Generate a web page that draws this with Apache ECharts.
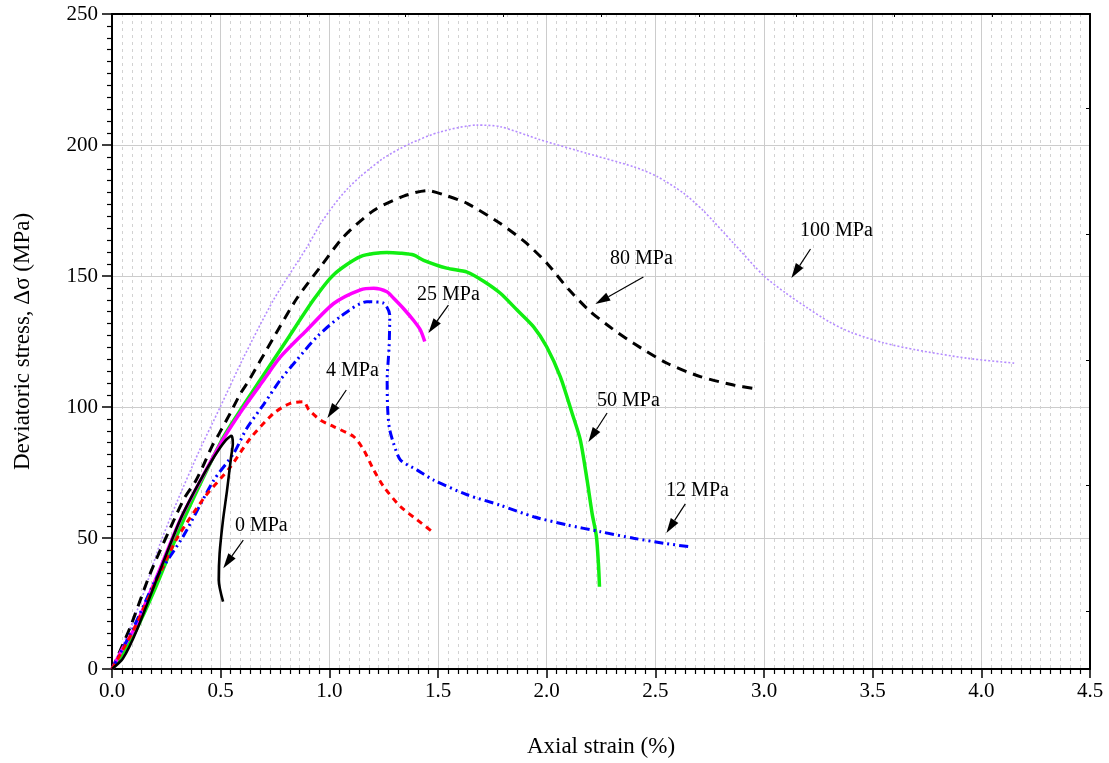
<!DOCTYPE html>
<html>
<head>
<meta charset="UTF-8">
<title>Deviatoric stress vs axial strain</title>
<script src="https://cdn.jsdelivr.net/npm/echarts@6/dist/echarts.min.js"></script>
<style>
  body { margin: 0; background: #fff; }
  #chart { width: 1109px; height: 763px; }
</style>
</head>
<body>
<div id="chart"></div>
<script>
// confining pressure curves: [axial strain %, deviatoric stress MPa]
var p0 = [[0,0],[0.05,4],[0.115,15],[0.237,41],[0.314,57],[0.4,71],[0.47,81],[0.52,87],[0.55,89],
  [0.556,86],[0.548,81],[0.529,68],[0.511,57],[0.495,44],[0.491,34],[0.511,25.7]];
var p4 = [[0,0],[0.1,15],[0.2,33],[0.3,50],[0.43,66],[0.544,77],[0.636,88],[0.744,97.6],[0.82,101.4],
  [0.882,102],[0.905,99],[0.959,95],[1.02,92.5],[1.112,88.7],[1.158,83.6],[1.204,76],[1.25,69.6],
  [1.327,62],[1.403,57],[1.48,52]];
var p12 = [[0,0],[0.1,16],[0.207,35],[0.33,51],[0.468,72],[0.56,82.3],[0.621,92],[0.698,101],[0.774,110.3],
  [0.851,118],[0.943,126.8],[1.051,134.5],[1.173,140.2],[1.25,139.6],[1.278,135],[1.275,123],[1.266,110],
  [1.268,100],[1.276,92],[1.296,86],[1.327,79.8],[1.403,76],[1.48,72.1],[1.634,66.5],[1.787,62.5],
  [1.94,58.1],[2.094,55],[2.247,52.4],[2.4,49.9],[2.538,48],[2.653,46.7]];
var p25 = [[0,0],[0.05,8],[0.1,15],[0.2,34],[0.314,57],[0.414,73],[0.514,88],[0.6,99],[0.698,110.3],
  [0.774,119],[0.897,129.4],[1.02,139.5],[1.143,144.7],[1.204,145.3],[1.265,144],[1.296,141.5],
  [1.342,137.5],[1.388,133],[1.419,129.4],[1.439,125]];
var p50 = [[0,0],[0.05,6],[0.1,13],[0.2,31],[0.314,54],[0.414,72],[0.514,88.7],[0.6,100],[0.682,110.3],
  [0.8,125],[0.928,141],[1.02,150.5],[1.143,157.4],[1.265,159],[1.327,158.7],[1.388,158],[1.434,156],
  [1.54,153],[1.634,151.5],[1.71,148],[1.787,143.4],[1.864,137],[1.94,130.6],[2.0,123],[2.063,111.5],
  [2.117,97.6],[2.155,87.4],[2.186,72.1],[2.209,59.4],[2.229,50.5],[2.239,39],[2.243,31.4]];
var p80 = [[0,0],[0.084,16],[0.176,36.5],[0.299,59.4],[0.337,65.8],[0.383,71.5],[0.422,78],[0.46,85],
  [0.498,90.6],[0.544,97.6],[0.59,105],[0.629,110],[0.74,126],[0.851,141.5],[0.959,153.5],[1.066,165],
  [1.204,175],[1.342,180.5],[1.45,182.6],[1.526,181],[1.634,177.7],[1.787,170],[1.9,163],[2.0,155],
  [2.1,145],[2.2,136.5],[2.3,130],[2.4,124.3],[2.554,116.7],[2.707,111.6],[2.86,108.4],[2.953,107.1]];
var p100 = [[0,0],[0.05,9],[0.1,19],[0.15,30],[0.222,48],[0.3,64],[0.4,83],[0.498,100],[0.606,119],
  [0.744,141],[0.897,161],[0.96,170],[1.02,177],[1.08,183],[1.143,188],[1.25,195],[1.373,200.6],
  [1.51,205],[1.68,207.6],[1.787,207],[1.97,202],[2.186,196.8],[2.4,191.7],[2.508,188],[2.63,181.6],
  [2.72,175],[2.86,162.5],[3.0,150],[3.1,143.5],[3.2,137.8],[3.3,132.5],[3.4,128.5],[3.55,124.5],
  [3.70,121.8],[3.935,118.6],[4.157,116.7]];

// curve labels and arrows (data coordinates)
var annoNames = ['100 MPa', '80 MPa', '25 MPa', '4 MPa', '0 MPa', '50 MPa', '12 MPa'];
var annoText = [[3.333,167.2],[2.436,156.5],[1.548,142.7],[1.106,113.7],[0.687,54.6],[2.376,102.3],[2.694,67.9]];
var arrowFrom = [[3.214,160.3],[2.445,149.6],[1.548,138.9],[1.078,106.5],[0.604,49.2],[2.278,97.7],[2.638,63]];
var arrowTo = [[3.126,149.2],[2.224,139.3],[1.456,128.2],[0.991,95.8],[0.512,38.5],[2.192,86.6],[2.551,51.9]];

var rightTicks = [22, 70, 118, 166, 214];

var serif = '"Liberation Serif", "DejaVu Serif", serif';

function curve(name, data, color, width, type) {
  return {
    name: name, type: 'line', data: data, showSymbol: false, smooth: 0.25,
    lineStyle: { color: color, width: width, type: type },
    animation: false, silent: true
  };
}

var chart = echarts.init(document.getElementById('chart'));
chart.setOption({
  animation: false,
  grid: { left: 112, right: 19, top: 14, bottom: 94 },
  xAxis: [{
    type: 'value', min: 0, max: 4.5, interval: 0.5, position: 'bottom',
    name: 'Axial strain (%)', nameLocation: 'middle', nameGap: 66,
    nameTextStyle: { fontFamily: serif, fontSize: 23, color: '#000' },
    axisLine: { onZero: false, lineStyle: { color: '#000', width: 2 } },
    axisTick: { inside: false, length: 9, lineStyle: { color: '#000', width: 1.5 } },
    minorTick: { show: true, splitNumber: 11, length: 5, lineStyle: { color: '#000', width: 1.2 } },
    axisLabel: { fontFamily: serif, fontSize: 21, color: '#000', margin: 12,
      formatter: function (v) { return v.toFixed(1); } },
    splitLine: { show: true, lineStyle: { color: '#cccccc', width: 1 } },
    minorSplitLine: { show: true, lineStyle: { color: '#d2d2d2', width: 1, type: [3, 4] } }
  }, {
    type: 'value', min: 0, max: 4.5, interval: 0.45, position: 'top',
    axisLine: { onZero: false, lineStyle: { color: '#000', width: 2 } },
    axisTick: { inside: true, length: 3, lineStyle: { color: '#000', width: 1 } },
    axisLabel: { show: false }, splitLine: { show: false }
  }],
  yAxis: [{
    type: 'value', min: 0, max: 250, interval: 50, position: 'left',
    name: 'Deviatoric stress, \u0394\u03c3 (MPa)', nameLocation: 'middle', nameGap: 78,
    nameTextStyle: { fontFamily: serif, fontSize: 23, color: '#000' },
    axisLine: { show: true, onZero: false, lineStyle: { color: '#000', width: 2 } },
    axisTick: { show: true, inside: false, length: 10, lineStyle: { color: '#000', width: 1.5 } },
    minorTick: { show: true, splitNumber: 11, length: 5, lineStyle: { color: '#000', width: 1.2 } },
    axisLabel: { fontFamily: serif, fontSize: 21, color: '#000', margin: 14 },
    splitLine: { show: true, lineStyle: { color: '#cccccc', width: 1 } }
  }, {
    type: 'value', min: 0, max: 250, position: 'right',
    axisLine: { show: true, onZero: false, lineStyle: { color: '#000', width: 2 } },
    axisTick: { show: true, inside: true, length: 4, customValues: rightTicks,
      lineStyle: { color: '#000', width: 1 } },
    axisLabel: { show: false }, splitLine: { show: false }
  }],
  series: [
    curve('100 MPa', p100, '#b58cff', 1.6, [2, 2]),
    curve('80 MPa', p80, '#000000', 3, [10, 7]),
    curve('50 MPa', p50, '#11ee11', 3.5, 'solid'),
    curve('25 MPa', p25, '#ff00ff', 3.5, 'solid'),
    curve('12 MPa', p12, '#0000ff', 3, [9, 4, 2, 4, 2, 4]),
    curve('4 MPa', p4, '#ff0000', 3, [6, 5]),
    curve('0 MPa', p0, '#000000', 2.6, 'solid'),
    {
      type: 'custom', silent: true, animation: false, clip: false,
      data: annoText,
      renderItem: function (params, api) {
        var i = params.dataIndex;
        var t = api.coord(annoText[i]);
        var a = api.coord(arrowFrom[i]);
        var b = api.coord(arrowTo[i]);
        var dx = b[0] - a[0], dy = b[1] - a[1];
        var len = Math.sqrt(dx * dx + dy * dy);
        var ux = dx / len, uy = dy / len;
        var hl = 15, hw = 4.5;
        var bx = b[0] - ux * hl, by = b[1] - uy * hl;
        return {
          type: 'group',
          children: [{
            type: 'text',
            style: { text: annoNames[i], x: t[0], y: t[1], align: 'center', verticalAlign: 'middle',
              font: '20px ' + serif, fill: '#000' }
          }, {
            type: 'line',
            shape: { x1: a[0], y1: a[1], x2: bx, y2: by },
            style: { stroke: '#000', lineWidth: 1.2 }
          }, {
            type: 'polygon',
            shape: { points: [[b[0], b[1]], [bx - uy * hw, by + ux * hw], [bx + uy * hw, by - ux * hw]] },
            style: { fill: '#000' }
          }]
        };
      }
    }
  ]
});
</script>
</body>
</html>
